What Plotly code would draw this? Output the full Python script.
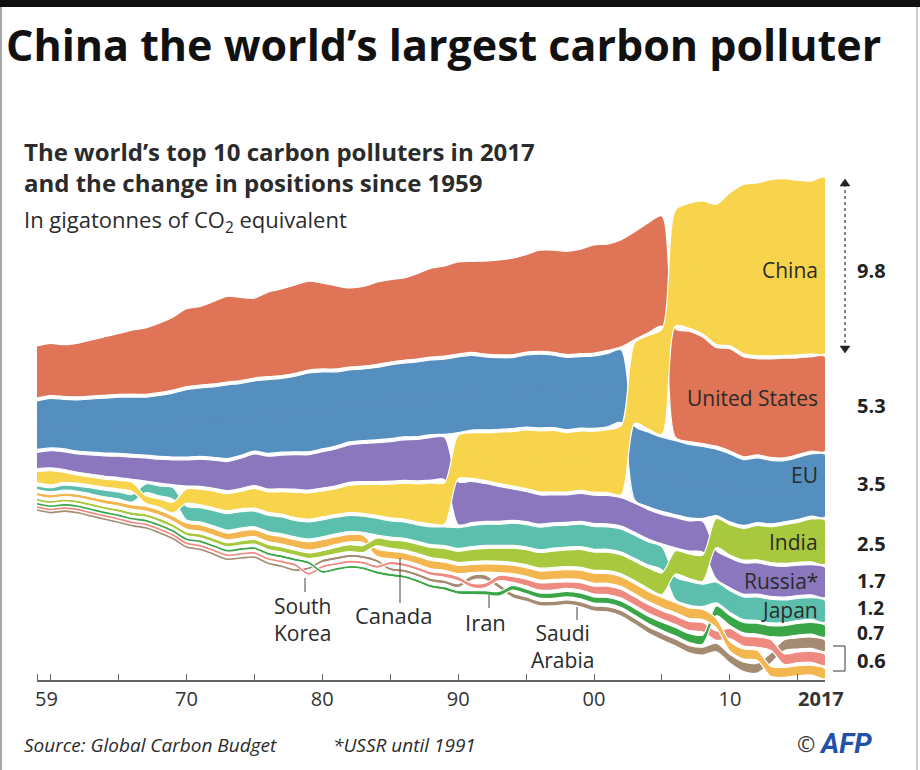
import numpy as np
import plotly.graph_objects as go

# ---------------- data (Gt CO2) ----------------
years = list(range(1959, 2018))

usa = [2.89, 2.90, 2.88, 2.99, 3.12, 3.25, 3.38, 3.56, 3.68, 3.86,
       4.05, 4.33, 4.37, 4.58, 4.76, 4.61, 4.44, 4.70, 4.81, 4.91,
       4.94, 4.77, 4.62, 4.40, 4.42, 4.57, 4.58, 4.58, 4.75, 4.94,
       5.02, 5.12, 5.06, 5.17, 5.27, 5.36, 5.42, 5.61, 5.68, 5.73,
       5.80, 6.01, 5.91, 5.95, 5.99, 6.11, 6.13, 6.05, 6.13, 5.92,
       5.48, 5.68, 5.56, 5.35, 5.48, 5.53, 5.38, 5.25, 5.27]

eu = [2.70, 2.75, 2.75, 2.85, 2.95, 3.05, 3.12, 3.18, 3.22, 3.38,
      3.55, 3.75, 3.80, 3.92, 4.10, 4.00, 3.90, 4.10, 4.10, 4.20,
      4.38, 4.28, 4.12, 4.00, 3.98, 4.02, 4.10, 4.10, 4.15, 4.15,
      4.18, 4.20, 4.15, 4.05, 3.98, 3.95, 4.00, 4.10, 4.02, 4.02,
      3.98, 4.02, 4.08, 4.05, 4.12, 4.15, 4.12, 4.12, 4.08, 4.00,
      3.70, 3.78, 3.66, 3.60, 3.53, 3.40, 3.45, 3.45, 3.50]

russia = [0.90, 0.95, 0.98, 1.02, 1.08, 1.13, 1.18, 1.23, 1.28, 1.32,
          1.38, 1.45, 1.50, 1.56, 1.62, 1.68, 1.75, 1.82, 1.87, 1.92,
          1.97, 2.02, 2.05, 2.08, 2.12, 2.16, 2.20, 2.25, 2.30, 2.36,
          2.36, 2.38, 2.30, 2.10, 1.95, 1.75, 1.68, 1.63, 1.55, 1.53,
          1.55, 1.57, 1.58, 1.58, 1.62, 1.63, 1.64, 1.68, 1.68, 1.71,
          1.59, 1.66, 1.73, 1.74, 1.72, 1.71, 1.69, 1.67, 1.69]

china = [0.64, 0.78, 0.55, 0.44, 0.44, 0.45, 0.48, 0.52, 0.43, 0.47,
         0.60, 0.80, 0.87, 0.92, 0.95, 0.97, 1.10, 1.13, 1.25, 1.42,
         1.45, 1.44, 1.43, 1.52, 1.60, 1.72, 1.88, 1.99, 2.12, 2.28,
         2.31, 2.42, 2.53, 2.66, 2.85, 3.02, 3.26, 3.40, 3.42, 3.30,
         3.30, 3.40, 3.50, 3.85, 4.50, 5.20, 5.85, 6.45, 6.95, 7.40,
         7.80, 8.50, 9.40, 9.60, 9.79, 9.82, 9.70, 9.60, 9.80]

japan = [0.21, 0.23, 0.28, 0.29, 0.33, 0.37, 0.39, 0.42, 0.49, 0.56,
         0.65, 0.77, 0.79, 0.85, 0.92, 0.91, 0.87, 0.91, 0.93, 0.91,
         0.95, 0.95, 0.92, 0.90, 0.89, 0.94, 0.91, 0.91, 0.91, 0.99,
         1.03, 1.16, 1.17, 1.18, 1.17, 1.23, 1.24, 1.25, 1.25, 1.21,
         1.25, 1.27, 1.25, 1.28, 1.29, 1.29, 1.29, 1.27, 1.31, 1.24,
         1.16, 1.21, 1.26, 1.30, 1.31, 1.26, 1.23, 1.21, 1.21]

india = [0.11, 0.12, 0.13, 0.14, 0.15, 0.15, 0.17, 0.18, 0.18, 0.19,
         0.19, 0.20, 0.21, 0.22, 0.23, 0.24, 0.26, 0.28, 0.29, 0.29,
         0.31, 0.33, 0.36, 0.38, 0.40, 0.43, 0.46, 0.49, 0.52, 0.56,
         0.60, 0.62, 0.67, 0.70, 0.73, 0.78, 0.83, 0.87, 0.91, 0.93,
         0.99, 1.01, 1.02, 1.04, 1.08, 1.14, 1.21, 1.30, 1.37, 1.46,
         1.62, 1.68, 1.76, 1.91, 1.99, 2.15, 2.21, 2.38, 2.45]

canada = [0.19, 0.19, 0.19, 0.20, 0.21, 0.23, 0.24, 0.25, 0.27, 0.29,
          0.30, 0.34, 0.35, 0.37, 0.38, 0.39, 0.39, 0.40, 0.41, 0.42,
          0.45, 0.45, 0.43, 0.41, 0.41, 0.42, 0.42, 0.41, 0.43, 0.46,
          0.46, 0.46, 0.45, 0.46, 0.46, 0.47, 0.49, 0.50, 0.51, 0.52,
          0.53, 0.56, 0.55, 0.56, 0.57, 0.57, 0.57, 0.56, 0.59, 0.57,
          0.53, 0.55, 0.56, 0.56, 0.56, 0.56, 0.56, 0.55, 0.57]

iran = [0.02, 0.03, 0.03, 0.03, 0.04, 0.04, 0.05, 0.05, 0.06, 0.07,
        0.07, 0.08, 0.09, 0.10, 0.11, 0.12, 0.13, 0.15, 0.16, 0.15,
        0.15, 0.12, 0.12, 0.13, 0.14, 0.15, 0.16, 0.16, 0.17, 0.18,
        0.19, 0.20, 0.23, 0.24, 0.26, 0.27, 0.28, 0.29, 0.30, 0.31,
        0.33, 0.34, 0.35, 0.37, 0.39, 0.42, 0.45, 0.48, 0.50, 0.52,
        0.54, 0.57, 0.58, 0.60, 0.61, 0.63, 0.64, 0.66, 0.67]

korea = [0.01, 0.01, 0.01, 0.02, 0.02, 0.02, 0.03, 0.03, 0.04, 0.05,
         0.05, 0.06, 0.06, 0.06, 0.07, 0.08, 0.08, 0.09, 0.10, 0.12,
         0.13, 0.13, 0.13, 0.14, 0.15, 0.16, 0.17, 0.18, 0.19, 0.21,
         0.22, 0.24, 0.25, 0.27, 0.30, 0.33, 0.37, 0.40, 0.43, 0.37,
         0.41, 0.44, 0.46, 0.47, 0.48, 0.49, 0.48, 0.49, 0.51, 0.53,
         0.53, 0.56, 0.57, 0.58, 0.59, 0.60, 0.60, 0.61, 0.62]

saudi = [0.01, 0.01, 0.01, 0.01, 0.01, 0.01, 0.02, 0.02, 0.02, 0.02,
         0.02, 0.03, 0.03, 0.04, 0.05, 0.06, 0.07, 0.08, 0.09, 0.12,
         0.15, 0.17, 0.18, 0.17, 0.17, 0.18, 0.17, 0.18, 0.18, 0.19,
         0.21, 0.22, 0.27, 0.28, 0.27, 0.26, 0.26, 0.26, 0.26, 0.27,
         0.28, 0.29, 0.30, 0.32, 0.34, 0.37, 0.39, 0.40, 0.41, 0.44,
         0.47, 0.50, 0.53, 0.55, 0.57, 0.61, 0.62, 0.63, 0.64]

countries = ["United States", "EU", "Russia", "China", "Japan",
             "India", "Canada", "Iran", "South Korea", "Saudi Arabia"]
series = [usa, eu, russia, china, japan, india, canada, iran, korea, saudi]
colors = ["#df7456", "#558fbf", "#8a77bd", "#f7d44c", "#5cbfad",
          "#a8c83e", "#f4b64f", "#3aa648", "#ee8a80", "#a58b72"]
draw_order = ["Saudi Arabia", "South Korea", "Iran", "Canada", "Japan",
              "Russia", "EU", "United States", "India", "China"]

end_labels = ["China", "United States", "EU", "India", "Russia*", "Japan"]
end_values = ["9.8", "5.3", "3.5", "2.5", "1.7", "1.2", "0.7", "0.6"]
x_tick_labels = ["59", "70", "80", "90", "00", "10", "<b>2017</b>"]
x_tick_pos = [1959.7, 1970, 1980, 1990, 2000, 2010, 2016.7]
minor_ticks = [1959, 1960, 1965, 1970, 1975, 1980, 1985, 1990, 1995,
               2000, 2005, 2010, 2015]

# ---------------- ranked, centred stacking ----------------
GAP = 0.16
V = np.array(series, dtype=float)
n, m = V.shape
upper = np.zeros_like(V)
lower = np.zeros_like(V)
for j in range(m):
    order = np.argsort(-V[:, j], kind="stable")
    total = V[:, j].sum() + GAP * (n - 1)
    y = total / 2.0
    for i in order:
        upper[i, j] = y
        lower[i, j] = y - V[i, j]
        y = lower[i, j] - GAP

# ---------------- layout geometry ----------------
W, H = 920, 770
ML, MR, MT, MB = 37, 95, 170, 90
PW, PH = W - ML - MR, H - MT - MB
SCALE = 18.0           # px per Gt
CENTER_PX = 428
y_top = (CENTER_PX - MT) / SCALE
y_bot = -((H - MB) - CENTER_PX) / SCALE


def px(x):
    return (x - ML) / PW


def py(y):
    return ((H - MB) - y) / PH


fig = go.Figure()
for name in draw_order:
    i = countries.index(name)
    c = colors[i]
    xs = years + years[::-1]
    ys = list(upper[i]) + list(lower[i][::-1])
    fig.add_trace(go.Scatter(
        x=xs, y=ys, mode="lines", fill="toself", fillcolor=c,
        line=dict(color="white", width=1.2, shape="spline", smoothing=0.8),
        hoverinfo="skip", showlegend=False))
    mid = (upper[i] + lower[i]) / 2.0
    fig.add_trace(go.Scatter(
        x=years, y=mid, mode="lines",
        line=dict(color=c, width=1.6, shape="spline", smoothing=0.8),
        hoverinfo="skip", showlegend=False))

FONT = "Open Sans"
TXT = "#2b2b2b"
ann = []


def add_text(text, x, y, size, xanchor="left", color=TXT, family=FONT,
             align="left"):
    ann.append(dict(text=text, x=px(x), y=py(y), xref="paper", yref="paper",
                    xanchor=xanchor, yanchor="middle", showarrow=False,
                    align=align,
                    font=dict(size=size, color=color, family=family)))


add_text("<b>China the world’s largest carbon polluter</b>", 4, 44, 43, color="#111")
add_text("<b>The world’s top 10 carbon polluters in 2017<br>"
         "and the change in positions since 1959</b>", 22, 167, 24)
add_text("In gigatonnes of CO<sub>2</sub> equivalent", 22, 221, 22)

label_y = [270, 398, 475, 542, 581, 610]
for t, yy in zip(end_labels, label_y):
    add_text(t, 820, yy, 21, xanchor="right")

# value labels at the right edge
add_text("<b>" + end_values[0] + "</b>", 855, 270, 20, color="#222")
add_text("<b>" + end_values[1] + "</b>", 855, 405, 20, color="#222")
add_text("<b>" + end_values[2] + "</b>", 855, 483, 20, color="#222")
add_text("<b>" + end_values[3] + "</b>", 855, 543, 20, color="#222")
add_text("<b>" + end_values[4] + "</b>", 855, 580, 20, color="#222")
add_text("<b>" + end_values[5] + "<br>" + end_values[6] + "</b>",
         855, 620, 19, color="#222")
add_text("<b>" + end_values[7] + "</b>", 855, 660, 20, color="#222")

add_text("South<br>Korea", 303, 619, 21, xanchor="center", align="center")
add_text("Canada", 393, 615, 22, xanchor="center")
add_text("Iran", 486, 622, 22, xanchor="center")
add_text("Saudi<br>Arabia", 562, 646, 21, xanchor="center", align="center")

add_text("<i>Source: Global Carbon Budget</i>", 22, 745, 19)
add_text("<i>*USSR until 1991</i>", 331, 745, 19)
add_text("©", 795, 743, 22, color="#333")
add_text("<b><i>AFP</i></b>", 817, 743, 28, color="#1f52a8", family="Roboto")

shapes = []


def line_px(x0, y0, x1, y1, color="#444", width=1, dash=None):
    d = dict(type="line", xref="paper", yref="paper",
             x0=px(x0), y0=py(y0), x1=px(x1), y1=py(y1),
             line=dict(color=color, width=width))
    if dash:
        d["line"]["dash"] = dash
    shapes.append(d)


# leader lines
line_px(305, 578, 305, 592)
line_px(400, 558, 400, 603)
line_px(489, 595, 489, 608)
line_px(577, 607, 577, 620)
# dotted double arrow for China
line_px(845, 184, 845, 348, color="#333", width=1.2, dash="dot")
for tip, base in [(179, 186), (353, 346)]:
    path = "M {} {} L {} {} L {} {} Z".format(
        px(840), py(base), px(850), py(base), px(845), py(tip))
    shapes.append(dict(type="path", xref="paper", yref="paper", path=path,
                       fillcolor="#222", line=dict(color="#222", width=0.5)))
# bracket for the 0.6 group
line_px(845, 646, 845, 671, color="#555", width=1.2)
line_px(833, 646, 845, 646, color="#555", width=1.2)
line_px(833, 671, 845, 671, color="#555", width=1.2)
# frame
shapes.append(dict(type="rect", xref="paper", yref="paper",
                   x0=px(0), y0=py(7), x1=px(920), y1=py(0),
                   fillcolor="#111", line=dict(width=0)))
line_px(1, 7, 1, 770, color="#888", width=1.5)
line_px(917, 7, 917, 770, color="#bbb", width=1.5)

fig.update_layout(
    width=W, height=H,
    margin=dict(l=ML, r=MR, t=MT, b=MB, pad=0),
    paper_bgcolor="white", plot_bgcolor="white",
    showlegend=False,
    annotations=ann, shapes=shapes,
    font=dict(family=FONT, color=TXT),
    xaxis=dict(range=[1959, 2017], showgrid=False, zeroline=False,
               showline=True, linecolor="#666", linewidth=1.5,
               tickvals=x_tick_pos, ticktext=x_tick_labels, ticks="",
               tickfont=dict(size=20, color="#333", family=FONT),
               minor=dict(tickvals=minor_ticks, ticks="inside", ticklen=6,
                          tickcolor="#666", tickwidth=1)),
    yaxis=dict(range=[y_bot, y_top], visible=False, fixedrange=True),
)

fig.write_html("out.html", config={"displayModeBar": False},
               post_script="document.body.style.margin='0px';")
